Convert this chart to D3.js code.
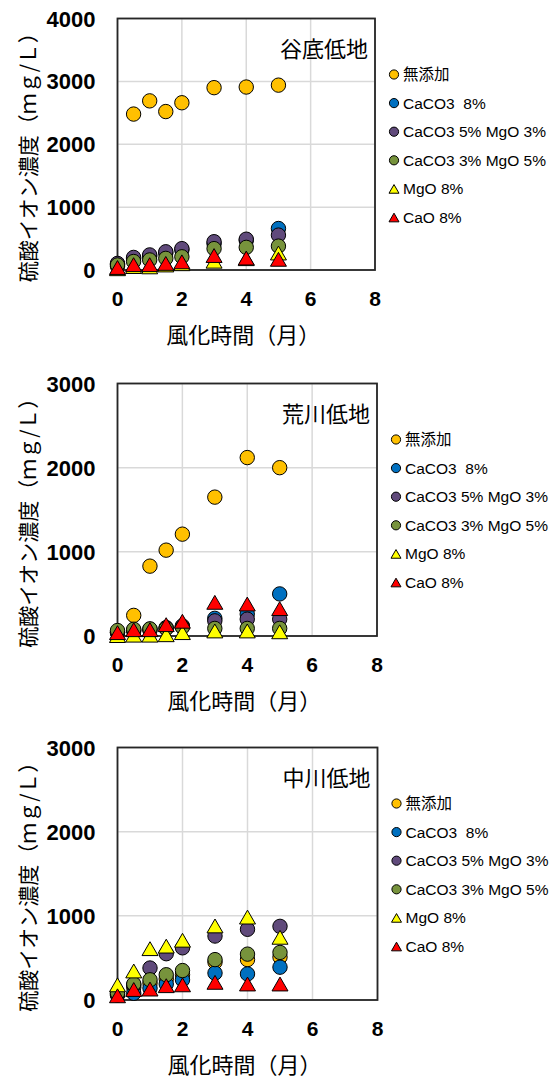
<!DOCTYPE html>
<html>
  <head>
    <meta charset="utf-8">
    <style>
      body { margin: 0; background: #fff; }
      svg text { font-family: "Liberation Sans", Arial, "Noto Sans CJK JP", sans-serif; }
      .jp { font-family: "Noto Sans CJK JP", sans-serif; }
    </style>
  </head>
  <body>
    <script src="https://d3js.org/d3.v7.min.js"></script>
    <script>
      // weathering time (months)
      const months = [0, 0.5, 1, 1.5, 2, 3, 4, 5];
      const seriesNames = ["無添加", "CaCO3  8%", "CaCO3 5% MgO 3%", "CaCO3 3% MgO 5%", "MgO 8%", "CaO 8%"];
      const seriesColors = ["#FFC000", "#0070C0", "#604A7B", "#77933C", "#FFFF00", "#FF0000"];
      const seriesShapes = ["circle", "circle", "circle", "circle", "triangle", "triangle"];
      const panelNames = ["谷底低地", "荒川低地", "中川低地"];
      const panelMax = [4000, 3000, 3000];
      const yTicks = [[0, 1000, 2000, 3000, 4000], [0, 1000, 2000, 3000], [0, 1000, 2000, 3000]];
      const xTicks = [0, 2, 4, 6, 8];

      // sulfate concentration (mg/L), one row per series
      const yaso = [
        [60, 2480, 2690, 2520, 2660, 2900, 2910, 2940],
        [90, 180, 220, 270, 320, 420, 470, 660],
        [105, 200, 240, 290, 340, 450, 490, 555],
        [80, 135, 160, 185, 210, 340, 360, 380],
        [20, 55, 50, 80, 100, 140, 180, 270],
        [40, 85, 85, 105, 130, 230, 190, 170]
      ];
      const arakawa = [
        [40, 245, 830, 1020, 1210, 1650, 2120, 2000],
        [40, 60, 70, 90, 110, 210, 260, 500],
        [50, 70, 80, 100, 120, 180, 200, 200],
        [65, 80, 85, 90, 105, 90, 90, 90],
        [5, 10, 10, 15, 40, 60, 60, 50],
        [40, 75, 75, 135, 175, 400, 380, 325]
      ];
      const nakagawa = [
        [60, 150, 200, 250, 300, 450, 480, 510],
        [60, 80, 140, 190, 240, 320, 310, 390],
        [80, 180, 380, 550, 620, 760, 840, 875],
        [80, 190, 240, 300, 350, 480, 545, 565],
        [180, 345, 610, 640, 710, 880, 985, 745],
        [50, 125, 130, 170, 180, 210, 190, 190]
      ];
      const panelData = [yaso, arakawa, nakagawa];

      const svg = d3.select("body").append("svg")
        .attr("width", 558)
        .attr("height", 1078);

      const panelBox = [
        {left: 117.5, right: 375, top: 18.5, bottom: 270},
        {left: 117.5, right: 377, top: 383.5, bottom: 636},
        {left: 117.5, right: 377.5, top: 747.5, bottom: 1000}
      ];

      function triPath(side) {
        const h = side * Math.sqrt(3) / 2;
        return `M0,${-h / 2}L${side / 2},${h / 2}L${-side / 2},${h / 2}Z`;
      }

      panelNames.forEach(function(name, p) {
        const b = panelBox[p];
        const x = d3.scaleLinear().domain([0, 8]).range([b.left, b.right]);
        const y = d3.scaleLinear().domain([0, panelMax[p]]).range([b.bottom, b.top]);
        const g = svg.append("g");

        // gridlines
        g.selectAll(".gx").data(xTicks).join("line")
          .attr("x1", d => x(d)).attr("x2", d => x(d))
          .attr("y1", b.top).attr("y2", b.bottom)
          .attr("stroke", "#d9d9d9").attr("stroke-width", 1.5);
        g.selectAll(".gy").data(yTicks[p]).join("line")
          .attr("x1", b.left).attr("x2", b.right)
          .attr("y1", d => y(d)).attr("y2", d => y(d))
          .attr("stroke", "#d9d9d9").attr("stroke-width", 1.5);

        // frame
        g.append("rect")
          .attr("x", b.left).attr("y", b.top)
          .attr("width", b.right - b.left).attr("height", b.bottom - b.top)
          .attr("fill", "none").attr("stroke", "#262626").attr("stroke-width", 1.8);

        // tick labels
        g.selectAll(".ty").data(yTicks[p]).join("text")
          .attr("x", b.left - 22).attr("y", d => y(d) + 8)
          .attr("text-anchor", "end")
          .attr("font-size", 22).attr("font-weight", "bold")
          .text(d => d);
        g.selectAll(".tx").data(xTicks).join("text")
          .attr("x", d => x(d)).attr("y", b.bottom + 36)
          .attr("text-anchor", "middle")
          .attr("font-size", 21).attr("font-weight", "bold")
          .text(d => d);

        // axis titles
        g.append("text").attr("class", "jp")
          .attr("transform", `translate(36,${(b.top + b.bottom) / 2 + 8}) rotate(-90)`)
          .attr("text-anchor", "middle")
          .attr("font-size", 21)
          .text("硫酸イオン濃度（ｍｇ/Ｌ）");
        g.append("text").attr("class", "jp")
          .attr("x", (b.left + b.right) / 2 - 3).attr("y", b.bottom + 73)
          .attr("text-anchor", "middle")
          .attr("font-size", 22)
          .text("風化時間（月）");

        // panel title
        g.append("text").attr("class", "jp")
          .attr("x", b.right - 7).attr("y", b.top + 38)
          .attr("text-anchor", "end")
          .attr("font-size", 22)
          .text(name);

        // points
        panelData[p].forEach(function(vals, s) {
          const pts = months.map((m, i) => [m, vals[i]]);
          if (seriesShapes[s] === "circle") {
            g.selectAll(null).data(pts).join("circle")
              .attr("cx", d => x(d[0])).attr("cy", d => y(d[1]))
              .attr("r", 7.2)
              .attr("fill", seriesColors[s]).attr("stroke", "#000").attr("stroke-width", 1);
          } else {
            g.selectAll(null).data(pts).join("path")
              .attr("d", triPath(16))
              .attr("transform", d => `translate(${x(d[0])},${y(d[1])})`)
              .attr("fill", seriesColors[s]).attr("stroke", "#000").attr("stroke-width", 1);
          }
        });

        // legend
        const lx = b.right + 19;
        const leg = g.selectAll(".leg").data(seriesNames).join("g")
          .attr("transform", (d, i) => `translate(${lx},${b.top + 56 + i * 28.6})`);
        leg.each(function(d, i) {
          const el = d3.select(this);
          if (seriesShapes[i] === "circle") {
            el.append("circle").attr("r", 4.6)
              .attr("fill", seriesColors[i]).attr("stroke", "#000").attr("stroke-width", 1);
          } else {
            el.append("path").attr("d", triPath(10))
              .attr("fill", seriesColors[i]).attr("stroke", "#000").attr("stroke-width", 1);
          }
        });
        leg.append("text")
          .attr("x", 9).attr("y", 5.5)
          .attr("font-size", 15.5)
          .attr("xml:space", "preserve")
          .style("white-space", "pre")
          .attr("class", (d, i) => i === 0 ? "jp" : null)
          .text(d => d);
      });
    </script>
  </body>
</html>
